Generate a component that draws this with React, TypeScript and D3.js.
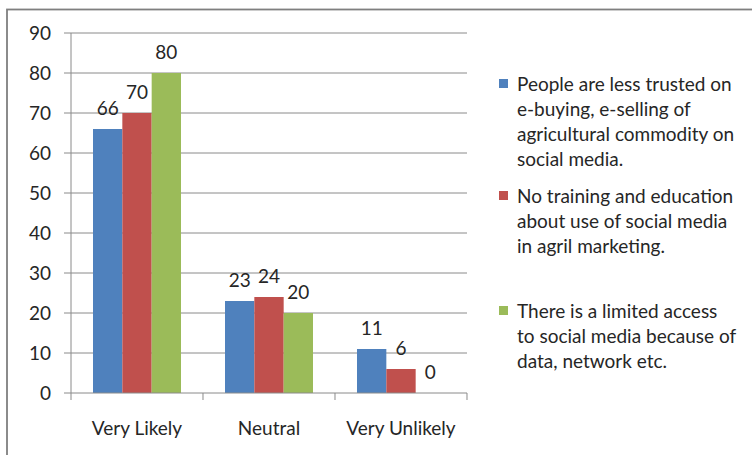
import React from "react";
import * as d3 from "d3";

const categories = ["Very Likely", "Neutral", "Very Unlikely"];
const seriesNames = [
  "People are less trusted on e-buying, e-selling of agricultural commodity on social media.",
  "No training and education about use of social media in agril marketing.",
  "There is a limited access to social media because of data, network etc.",
];
const legendLines = [
  ["People are less trusted on", "e-buying, e-selling of", "agricultural commodity on", "social media."],
  ["No training and education", "about use of social media", "in agril marketing."],
  ["There is a limited access", "to social media because of", "data, network etc."],
];
const seriesA = [66, 23, 11];
const seriesB = [70, 24, 6];
const seriesC = [80, 20, 0];
const colors = ["#4F81BD", "#C0504D", "#9BBB59"];
const yTicks = [0, 10, 20, 30, 40, 50, 60, 70, 80, 90];

const W = 752, H = 455;
const FONT = "Lato, 'Open Sans', sans-serif";
const FS = 19;

export default function App() {
  const series = [seriesA, seriesB, seriesC];
  const x0 = d3.scaleBand().domain(categories).range([71, 467]).paddingInner(0.3333).paddingOuter(0.16667);
  const x1 = d3.scaleBand().domain(["0", "1", "2"]).range([0, x0.bandwidth()]);
  const y = d3.scaleLinear().domain([0, 90]).range([393, 33]);
  const legendY = [91, 203, 318];
  return (
    <svg width={W} height={H} style={{ position: "absolute", left: 0, top: 0, fontFamily: FONT }}>
      <rect x={0} y={0} width={W} height={H} fill="#fff" />
      <rect x={7} y={9.5} width={W + 10} height={H + 10} fill="#fff" stroke="#7f7f7f" strokeWidth={1.8} />
      {yTicks.map((t) => (
        <g key={t}>
          {t > 0 && <line x1={71} x2={467} y1={y(t)} y2={y(t)} stroke="#8a8a8a" strokeWidth={1} />}
          <line x1={64} x2={71} y1={y(t)} y2={y(t)} stroke="#8a8a8a" strokeWidth={1} />
          <text x={51} y={y(t)} dy="0.35em" textAnchor="end" fontSize={FS} fill="#262626">{t}</text>
        </g>
      ))}
      <line x1={71} x2={71} y1={33} y2={393} stroke="#8a8a8a" strokeWidth={1} />
      {series.map((vals, si) =>
        vals.map((v, ci) => {
          const bx = (x0(categories[ci]) ?? 0) + (x1(String(si)) ?? 0);
          return (
            <g key={`${si}-${ci}`}>
              {v > 0 && (
                <rect x={bx} y={y(v)} width={x1.bandwidth()} height={y(0) - y(v)} fill={colors[si]} />
              )}
              <text x={bx + x1.bandwidth() / 2} y={y(v) - 14} textAnchor="middle" fontSize={FS} fill="#262626">{v}</text>
            </g>
          );
        })
      )}
      <line x1={71} x2={467} y1={393} y2={393} stroke="#8a8a8a" strokeWidth={1} />
      {[0, 1, 2, 3].map((i) => {
        const xx = 71 + i * x0.step();
        return <line key={i} x1={xx} x2={xx} y1={393} y2={400} stroke="#8a8a8a" strokeWidth={1} />;
      })}
      {categories.map((c) => (
        <text key={c} x={(x0(c) ?? 0) + x0.bandwidth() / 2} y={435} textAnchor="middle" fontSize={FS} fill="#262626">{c}</text>
      ))}
      {legendLines.map((lines, si) => (
        <g key={si}>
          <title>{seriesNames[si]}</title>
          <rect x={499} y={legendY[si] - 12} width={9} height={9} fill={colors[si]} />
          {lines.map((ln, li) => (
            <text key={li} x={517} y={legendY[si] + li * 25} fontSize={FS} fill="#262626">{ln}</text>
          ))}
        </g>
      ))}
    </svg>
  );
}
